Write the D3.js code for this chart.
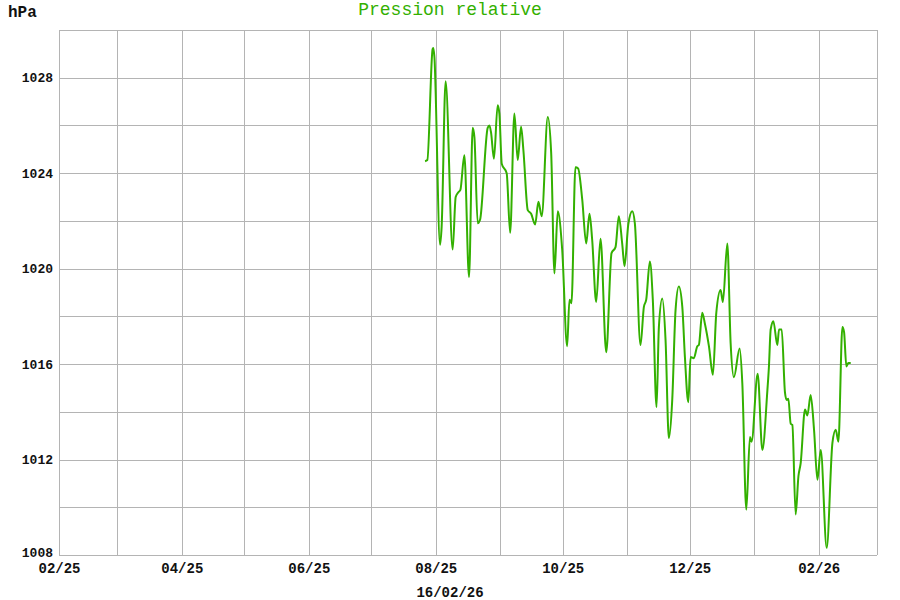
<!DOCTYPE html>
<html>
<head>
<meta charset="utf-8">
<script src="https://cdn.jsdelivr.net/npm/d3@7"></script>
<style>
  html, body { margin: 0; padding: 0; background: #ffffff; }
  svg { display: block; }
</style>
</head>
<body>
<svg id="chart" width="900" height="600"></svg>
<script>
// ---------- data ----------
const title = "Pression relative";
const unitLabel = "hPa";
const dateLabel = "16/02/26";

const times = [
  "2025-07-26T21","2025-07-27T23","2025-07-30T12","2025-07-30T20","2025-07-31T08",
  "2025-08-03T02","2025-08-03T20","2025-08-05T18","2025-08-09T03","2025-08-10T14",
  "2025-08-11T21","2025-08-12T20","2025-08-14T18","2025-08-17T00","2025-08-18T18",
  "2025-08-19T14","2025-08-21T04","2025-08-22T07","2025-08-25T23","2025-08-26T19",
  "2025-08-27T14","2025-08-28T23","2025-08-30T18","2025-08-31T14","2025-09-01T17",
  "2025-09-04T02","2025-09-05T18","2025-09-07T19","2025-09-09T09","2025-09-11T00",
  "2025-09-12T03","2025-09-14T05","2025-09-15T20","2025-09-17T18","2025-09-19T08",
  "2025-09-20T22","2025-09-23T20","2025-09-25T11","2025-09-27T01","2025-09-28T15",
  "2025-09-30T18","2025-10-03T03","2025-10-04T06","2025-10-05T05","2025-10-07T03",
  "2025-10-08T10","2025-10-10T09","2025-10-12T07","2025-10-13T21","2025-10-15T04",
  "2025-10-17T02","2025-10-19T04","2025-10-21T22","2025-10-24T11","2025-10-26T09",
  "2025-10-27T23","2025-10-29T14","2025-10-30T17","2025-11-01T12","2025-11-03T10",
  "2025-11-04T16","2025-11-07T09","2025-11-09T00","2025-11-10T03","2025-11-11T21",
  "2025-11-13T07","2025-11-15T02","2025-11-16T05","2025-11-17T20","2025-11-19T10",
  "2025-11-21T00","2025-11-22T15","2025-11-24T05","2025-11-25T19","2025-11-27T11",
  "2025-11-28T17","2025-11-30T08","2025-12-01T11","2025-12-03T00","2025-12-04T16",
  "2025-12-05T10","2025-12-07T01","2025-12-08T07","2025-12-10T06","2025-12-12T04",
  "2025-12-13T19","2025-12-15T21","2025-12-16T23","2025-12-19T02","2025-12-20T16",
  "2025-12-22T06","2025-12-25T00","2025-12-26T07","2025-12-28T05","2025-12-29T23",
  "2025-12-30T18","2026-01-02T16","2026-01-04T22","2026-01-07T08","2026-01-08T02",
  "2026-01-08T22","2026-01-10T05","2026-01-12T03","2026-01-12T22","2026-01-14T05",
  "2026-01-15T19","2026-01-16T14","2026-01-17T10","2026-01-18T13","2026-01-19T08",
  "2026-01-20T22","2026-01-22T06","2026-01-23T08","2026-01-25T10","2026-01-26T13",
  "2026-01-28T03","2026-01-29T18","2026-01-31T09","2026-02-01T23","2026-02-04T20",
  "2026-02-07T14","2026-02-09T04","2026-02-10T11","2026-02-12T09","2026-02-13T04",
  "2026-02-14T07","2026-02-15T06","2026-02-16T09"
];

const pressure = [
  1024.5,1024.55,1029.2,1029.25,1028.9,
  1021.0,1021.75,1027.85,1020.8,1023.0,
  1023.2,1023.3,1024.75,1019.65,1025.9,
  1025.5,1021.9,1022.05,1025.9,1026.0,
  1025.7,1024.6,1026.85,1026.5,1024.4,
  1024.0,1021.5,1026.5,1024.55,1025.95,
  1024.95,1022.45,1022.3,1021.85,1022.8,
  1022.2,1026.35,1024.85,1019.8,1022.4,
  1020.8,1016.75,1018.7,1018.55,1024.25,
  1024.2,1022.9,1021.05,1022.3,1021.2,
  1018.6,1021.25,1016.5,1020.65,1020.9,
  1022.2,1021.05,1020.1,1021.85,1022.4,
  1021.9,1016.8,1018.4,1018.7,1020.3,
  1018.7,1014.2,1017.55,1018.75,1017.0,
  1012.9,1014.5,1018.25,1019.25,1018.4,
  1016.3,1014.4,1016.3,1016.25,1016.75,
  1016.8,1018.15,1017.7,1016.75,1015.55,
  1018.15,1019.1,1018.6,1021.05,1016.9,
  1015.45,1016.65,1015.2,1009.9,1012.95,
  1012.75,1015.6,1012.4,1014.9,1015.9,
  1017.45,1017.8,1016.8,1017.45,1017.45,
  1014.8,1014.5,1014.55,1013.5,1013.45,
  1009.7,1011.3,1011.85,1014.1,1013.85,
  1014.7,1013.25,1011.15,1012.4,1008.3,
  1012.7,1013.25,1012.75,1017.55,1017.35,
  1015.9,1016.05,1016.05
];

const yTickLabels = [1008, 1012, 1016, 1020, 1024, 1028];
const yGridValues = [1010, 1012, 1014, 1016, 1018, 1020, 1022, 1024, 1026, 1028];
const xTickLabels = ["2025-02-01", "2025-04-01", "2025-06-01", "2025-08-01", "2025-10-01", "2025-12-01", "2026-02-01"];
const xStart = "2025-02-01";
const xEnd = "2026-03-01";

// ---------- layout ----------
const W = 900, H = 600;
const m = { left: 59, right: 23, top: 30, bottom: 45 };
const lineColor = "#33b000";
const gridColor = "#b4b4b4";
const font = "'Liberation Mono', 'Courier New', monospace";

const parse = d3.utcParse("%Y-%m-%dT%H");
const parseDay = d3.utcParse("%Y-%m-%d");
const data = times.map((t, i) => ({ t: parse(t), v: pressure[i] }));

const svg = d3.select("#chart");

const x = d3.scaleUtc()
  .domain([parseDay(xStart), parseDay(xEnd)])
  .range([m.left, W - m.right]);
const y = d3.scaleLinear()
  .domain([1008, 1030])
  .range([H - m.bottom, m.top]);

// plot background
svg.append("rect")
  .attr("x", m.left).attr("y", m.top)
  .attr("width", W - m.left - m.right)
  .attr("height", H - m.top - m.bottom)
  .attr("fill", "#ffffff");

// vertical monthly grid
const months = d3.utcMonth.range(parseDay(xStart), d3.utcDay.offset(parseDay(xEnd), 1));
svg.append("g")
  .selectAll("line")
  .data(months)
  .join("line")
  .attr("x1", d => Math.round(x(d)) + 0.5)
  .attr("x2", d => Math.round(x(d)) + 0.5)
  .attr("y1", m.top)
  .attr("y2", H - m.bottom)
  .attr("stroke", gridColor)
  .attr("stroke-width", 1);

// horizontal grid
svg.append("g")
  .selectAll("line")
  .data(yGridValues.concat([1008, 1030]))
  .join("line")
  .attr("x1", m.left)
  .attr("x2", W - m.right)
  .attr("y1", d => Math.round(y(d)) + 0.5)
  .attr("y2", d => Math.round(y(d)) + 0.5)
  .attr("stroke", gridColor)
  .attr("stroke-width", 1);

// y axis labels
const yAxis = d3.axisLeft(y).tickValues(yTickLabels).tickSize(0).tickPadding(6).tickFormat(d3.format("d"));
const gy = svg.append("g").attr("transform", `translate(${m.left},0)`).call(yAxis);
gy.select(".domain").remove();
gy.selectAll("text")
  .attr("font-family", font)
  .attr("font-size", 13)
  .attr("font-weight", "bold")
  .attr("fill", "#111");
gy.selectAll(".tick").filter(d => d === 1008).select("text").attr("dy", "0.1em");

// x axis labels
const xAxis = d3.axisBottom(x).tickValues(xTickLabels.map(parseDay)).tickSize(0).tickPadding(8).tickFormat(d3.utcFormat("%m/%y"));
const gx = svg.append("g").attr("transform", `translate(0,${H - m.bottom})`).call(xAxis);
gx.select(".domain").remove();
gx.selectAll("text")
  .attr("font-family", font)
  .attr("font-size", 14)
  .attr("font-weight", "bold")
  .attr("fill", "#111");

// line
const line = d3.line()
  .x(d => x(d.t))
  .y(d => y(d.v))
  .curve(d3.curveMonotoneX);
svg.append("path")
  .datum(data)
  .attr("d", line)
  .attr("fill", "none")
  .attr("stroke", lineColor)
  .attr("stroke-width", 2)
  .attr("stroke-linejoin", "round");

// title
svg.append("text")
  .attr("x", 450).attr("y", 15)
  .attr("text-anchor", "middle")
  .attr("font-family", font)
  .attr("font-size", 18)
  .attr("fill", lineColor)
  .text(title);

// unit
svg.append("text")
  .attr("x", 8).attr("y", 17)
  .attr("font-family", font)
  .attr("font-size", 16)
  .attr("font-weight", "bold")
  .attr("fill", "#111")
  .text(unitLabel);

// date label
svg.append("text")
  .attr("x", 450).attr("y", 597)
  .attr("text-anchor", "middle")
  .attr("font-family", font)
  .attr("font-size", 14)
  .attr("font-weight", "bold")
  .attr("fill", "#111")
  .text(dateLabel);
</script>
</body>
</html>
